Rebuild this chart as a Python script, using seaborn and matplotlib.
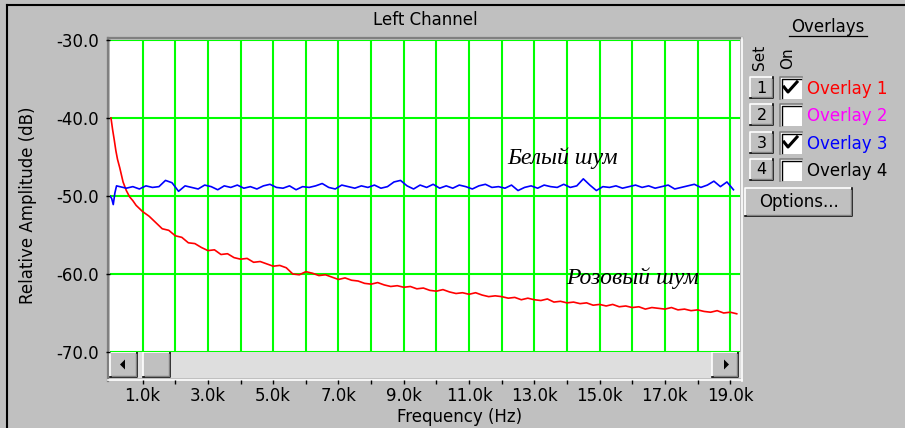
import numpy as np
import pandas as pd
import matplotlib
matplotlib.use('Agg')
import matplotlib.pyplot as plt
import seaborn as sns
from matplotlib.patches import Rectangle, Polygon

# Overlay 3 - white noise, relative amplitude in dB
white_head_khz = [0.0, 0.05, 0.1, 0.15, 0.2]
white_head_db = [-50.0, -50.3, -51.1, -49.6, -48.7]
white_body_khz = np.round(np.arange(0.3, 19.15, 0.2), 1)
white_body_db = [
    -48.8, -49.0, -48.8, -49.1, -48.7, -48.9, -48.8, -48.0, -48.3, -49.4,
    -48.7, -48.9, -49.1, -48.6, -48.8, -49.2, -48.7, -48.9, -48.6, -49.0,
    -48.8, -49.1, -48.7, -48.5, -48.9, -49.0, -48.7, -49.2, -48.8, -48.9,
    -48.7, -48.4, -48.9, -49.1, -48.6, -48.8, -49.0, -48.7, -48.9, -48.6,
    -49.0, -48.8, -48.2, -48.0, -48.7, -49.1, -48.6, -48.9, -48.5, -49.0,
    -48.7, -49.0, -48.6, -48.8, -49.1, -48.7, -48.5, -48.9, -48.8, -49.0,
    -48.6, -49.3, -48.9, -48.7, -49.0, -48.6, -48.8, -48.9, -48.5, -48.9,
    -48.7, -47.8, -48.6, -49.3, -48.8, -48.9, -48.7, -49.0, -48.8, -48.6,
    -48.9, -48.7, -49.0, -48.8, -48.6, -49.1, -48.9, -48.7, -48.5, -48.9,
    -48.6, -48.1, -48.8, -48.2, -49.2,
]

# Overlay 1 - pink noise, relative amplitude in dB
pink_head_khz = [0.03, 0.08, 0.13, 0.18, 0.23, 0.3, 0.4, 0.5, 0.6, 0.7, 0.8, 0.9]
pink_head_db = [-40.0, -41.5, -42.8, -44.2, -45.3, -46.4, -48.2, -49.3, -50.1, -50.6, -51.2, -51.6]
pink_body_khz = np.round(np.arange(1.0, 19.25, 0.2), 1)
pink_body_db = [
    -52.0, -52.6, -53.4, -54.2, -54.4, -55.1, -55.3, -56.0, -56.1, -56.6,
    -57.0, -56.9, -57.5, -57.4, -57.9, -58.1, -58.0, -58.5, -58.4, -58.7,
    -59.0, -58.9, -59.2, -60.0, -60.1, -59.7, -59.9, -60.2, -60.1, -60.4,
    -60.7, -60.5, -60.8, -60.9, -61.2, -61.3, -61.1, -61.4, -61.6, -61.5,
    -61.7, -61.6, -61.9, -61.8, -62.1, -62.2, -62.0, -62.3, -62.5, -62.4,
    -62.6, -62.4, -62.7, -62.9, -62.8, -62.9, -63.1, -63.0, -63.3, -63.1,
    -63.3, -63.4, -63.2, -63.6, -63.5, -63.7, -63.6, -63.8, -63.7, -64.0,
    -63.9, -64.1, -63.9, -64.2, -64.1, -64.3, -64.2, -64.5, -64.3, -64.4,
    -64.5, -64.3, -64.6, -64.5, -64.7, -64.6, -64.8, -64.9, -64.7, -65.0,
    -64.9, -65.1,
]

y_ticks = [-70, -60, -50, -40, -30]
x_ticks = list(range(1, 20))
x_labels = [f'{k}.0k' if k % 2 else '' for k in x_ticks]

overlay_names = ['Overlay 1', 'Overlay 2', 'Overlay 3', 'Overlay 4']
overlay_colors = ['#FF0000', '#FF00FF', '#0000FF', '#000000']
overlay_on = [True, False, True, False]

# build a long table for seaborn
white = pd.DataFrame({'khz': np.concatenate([white_head_khz, white_body_khz]),
                      'db': white_head_db + white_body_db, 'overlay': 'Overlay 3'})
pink = pd.DataFrame({'khz': np.concatenate([pink_head_khz, pink_body_khz]),
                     'db': pink_head_db + pink_body_db, 'overlay': 'Overlay 1'})
df = pd.concat([pink, white], ignore_index=True)

plt.rcParams['font.family'] = ['DejaVu Sans']
FS = 12
GRAY = '#C0C0C0'
DARK = '#808080'

fig = plt.figure(figsize=(9.05, 4.28), dpi=100, facecolor=GRAY)

# main plot area (pixel box 110..740 x 40..352)
ax = fig.add_axes([110 / 905, (428 - 352) / 428, 630 / 905, 312 / 428])
ax.set_zorder(2)
ax.set_facecolor('white')

sns.lineplot(data=df, x='khz', y='db', hue='overlay',
             palette={'Overlay 1': '#FF0000', 'Overlay 3': '#0000FF'},
             estimator=None, sort=False, lw=1.2, legend=False, ax=ax)

ax.set_xlim(0, 19.3)
ax.set_ylim(-70, -30)
ax.set_xticks(x_ticks)
ax.set_xticklabels(x_labels)
ax.set_yticks(y_ticks)
ax.set_yticklabels([f'{v:.1f}' for v in y_ticks])
ax.grid(True, color='#00FF00', lw=1.5)
ax.set_axisbelow(True)
ax.set_xlabel('')
ax.set_ylabel('')
for s in ax.spines.values():
    s.set_visible(False)
ax.spines['bottom'].set_position(('outward', 20))
ax.tick_params(axis='both', direction='out', length=3, width=1, colors='black',
               labelsize=FS)
ax.tick_params(axis='x', pad=2.5)
ax.tick_params(axis='y', pad=5)

# text annotations on the curves
ax.text(12.17, -45.9, 'Белый шум', fontfamily='Liberation Serif', style='italic',
        fontsize=17, va='baseline', ha='left')
ax.text(13.98, -61.3, 'Розовый шум', fontfamily='Liberation Serif', style='italic',
        fontsize=17, va='baseline', ha='left')

# user interface layer in pixel coordinates
ui = fig.add_axes([0, 0, 1, 1])
ui.set_zorder(1)
ui.set_xlim(0, 905)
ui.set_ylim(428, 0)
ui.axis('off')


def button(x0, y0, x1, y1):
    ui.add_patch(Rectangle((x0, y0), x1 - x0, y1 - y0, fc=GRAY, ec='none'))
    ui.plot([x0, x0, x1], [y1, y0, y0], color='white', lw=1.2)
    ui.plot([x0, x1, x1], [y1, y1, y0], color='black', lw=1.2)
    ui.plot([x0 + 1.5, x1 - 1.5, x1 - 1.5], [y1 - 1.5, y1 - 1.5, y0 + 1.5], color=DARK, lw=1.0)


# window frame
ui.plot([7, 905], [5, 5], color='black', lw=1.5)
ui.plot([7, 7], [5, 428], color='black', lw=1.5)

# sunken frame around plot + scrollbar
ui.plot([107.5, 107.5], [381, 37.5], color=DARK, lw=1.6)
ui.plot([107.5, 742], [37.5, 37.5], color=DARK, lw=1.6)
ui.plot([741.5, 741.5], [38, 381], color='white', lw=1.2)
ui.plot([108, 742], [380, 380], color='white', lw=1.2)

# scrollbar
ui.add_patch(Rectangle((110, 352), 631, 26, fc='#DEDEDE', ec='none'))
button(110, 352, 137, 377)
button(143, 352, 170, 377)
button(712, 352, 738, 377)
ui.add_patch(Polygon([(120, 364.5), (125, 359.5), (125, 369.5)], closed=True, fc='black', ec='none'))
ui.add_patch(Polygon([(729, 364.5), (724, 359.5), (724, 369.5)], closed=True, fc='black', ec='none'))

ui.text(425, 20, 'Left Channel', ha='center', va='center', fontsize=FS)
ui.text(460, 417, 'Frequency (Hz)', ha='center', va='center', fontsize=FS)
ui.text(28, 205, 'Relative Amplitude (dB)', ha='center', va='center', rotation=90, fontsize=FS)

# overlays panel
ui.text(828, 27, 'Overlays', ha='center', va='center', fontsize=FS)
ui.plot([789, 867], [36, 36], color='black', lw=0.9)
ui.text(759, 57, 'Set', ha='center', va='center', rotation=90, fontsize=FS - 1)
ui.text(788, 58, 'On', ha='center', va='center', rotation=90, fontsize=FS - 1)
row_y = [88, 115, 143, 170]
for i, (name, col, on) in enumerate(zip(overlay_names, overlay_colors, overlay_on)):
    yc = row_y[i]
    button(750, yc - 11, 773, yc + 10)
    ui.text(761.5, yc, str(i + 1), ha='center', va='center', fontsize=FS - 0.5)
    ui.add_patch(Rectangle((780, yc - 11), 22, 22, fc='white', ec='none'))
    ui.plot([780, 780, 802], [yc + 11, yc - 11, yc - 11], color=DARK, lw=1.2)
    ui.plot([781.5, 781.5, 801], [yc + 10, yc - 9.5, yc - 9.5], color='black', lw=1.0)
    if on:
        ui.plot([784, 788, 797], [yc - 1, yc + 4, yc - 6], color='black', lw=2.2)
    ui.text(807, yc + 1, name, ha='left', va='center', color=col, fontsize=FS)

button(745, 188, 852, 216)
ui.text(798.5, 202, 'Options...', ha='center', va='center', fontsize=FS)

fig.savefig('out.png', dpi=100, facecolor=GRAY)
